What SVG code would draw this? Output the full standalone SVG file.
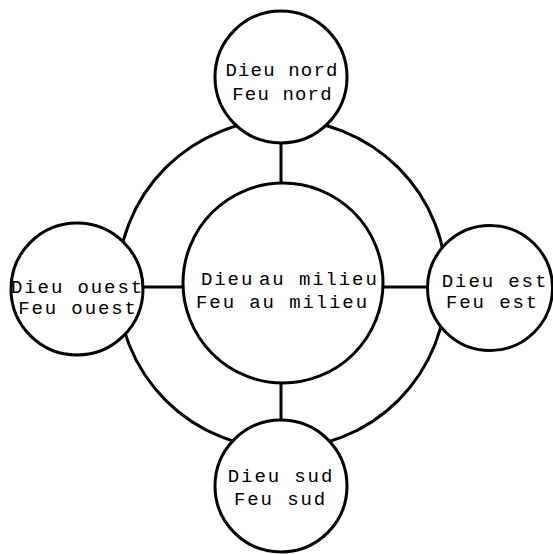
<svg xmlns="http://www.w3.org/2000/svg" width="553" height="554" viewBox="0 0 553 554">
  <style>
    .ring { fill: none; stroke: #000; stroke-width: 3; }
    .node { fill: #fff; stroke: #000; stroke-width: 3; }
    .link { stroke: #000; stroke-width: 3; fill: none; }
    .lbl { font-family: "Liberation Mono", "DejaVu Sans Mono", monospace; font-size: 19px; letter-spacing: 1.9px; fill: #000; text-anchor: middle; }
    .n { letter-spacing: 1.15px; }
  </style>
  <rect width="553" height="554" fill="#fff"/>
  <g id="ring">
    <circle class="ring" cx="282" cy="284" r="164.5"/>
  </g>
  <g id="connectors">
    <line class="link" x1="281" y1="143" x2="281" y2="183"/>
    <line class="link" x1="281" y1="383" x2="281" y2="420"/>
    <line class="link" x1="143" y1="287" x2="184" y2="287"/>
    <line class="link" x1="382" y1="287" x2="428" y2="287"/>
  </g>
  <g id="center">
    <circle class="node" cx="283" cy="283" r="100"/>
    <text class="lbl" x="201" y="285" style="text-anchor:start"><tspan>Dieu</tspan> <tspan x="259">au milieu</tspan></text>
    <text class="lbl" x="282.5" y="308">Feu au milieu</text>
  </g>
  <g id="north">
    <circle class="node" cx="281" cy="77" r="66"/>
    <text class="lbl n" x="282" y="76">Dieu nord</text>
    <text class="lbl n" x="282.5" y="100">Feu nord</text>
  </g>
  <g id="south">
    <circle class="node" cx="281" cy="486" r="66"/>
    <text class="lbl" x="281" y="482">Dieu sud</text>
    <text class="lbl" x="280.5" y="505">Feu sud</text>
  </g>
  <g id="west">
    <circle class="node" cx="77" cy="289" r="66"/>
    <text class="lbl" x="77.5" y="293">Dieu ouest</text>
    <text class="lbl" x="78" y="314">Feu ouest</text>
  </g>
  <g id="east">
    <circle class="node" cx="490" cy="288" r="62.5"/>
    <text class="lbl" x="495" y="287">Dieu est</text>
    <text class="lbl" x="492.5" y="308">Feu est</text>
  </g>
</svg>
